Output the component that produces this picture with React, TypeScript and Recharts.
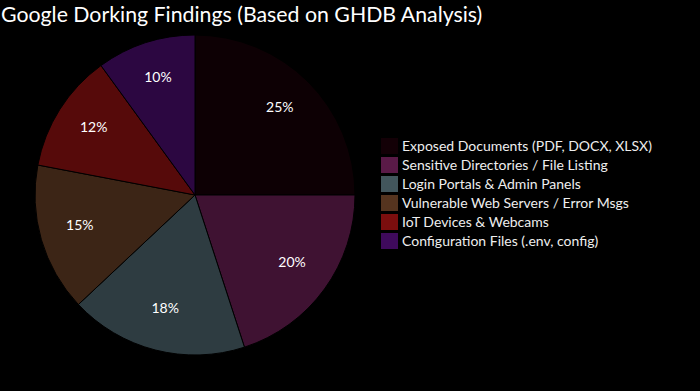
import React from 'react';
import { PieChart, Pie, Cell, Legend } from 'recharts';

const FONT = 'Lato, "DejaVu Sans", sans-serif';

const title = 'Google Dorking Findings (Based on GHDB Analysis)';
const categories = [
  'Exposed Documents (PDF, DOCX, XLSX)',
  'Sensitive Directories / File Listing',
  'Login Portals & Admin Panels',
  'Vulnerable Web Servers / Error Msgs',
  'IoT Devices & Webcams',
  'Configuration Files (.env, config)',
];
const values = [25, 20, 18, 15, 12, 10];
const colors = ['#130006', '#5a1a47', '#42565c', '#55341f', '#7b0e0e', '#3f0a5c'];

const data = categories.map((name, i) => ({ name, value: values[i] }));

const RAD = Math.PI / 180;

const renderLabel = (props: any) => {
  const { cx, cy, midAngle, outerRadius, value } = props;
  const r = outerRadius * 0.75;
  const x = cx + r * Math.cos(-midAngle * RAD);
  const y = cy + r * Math.sin(-midAngle * RAD) - 4;
  return (
    <text
      x={x}
      y={y}
      fill="#ffffff"
      textAnchor="middle"
      dominantBaseline="central"
      fontSize={14}
      fontFamily={FONT}
    >
      {`${value}%`}
    </text>
  );
};

const renderLegend = () => (
  <div style={{ display: 'flex', flexDirection: 'column', fontFamily: FONT, fontSize: 14, color: '#eeeeee' }}>
    {categories.map((c, i) => (
      <div key={c} style={{ display: 'flex', alignItems: 'center', height: 19, whiteSpace: 'nowrap' }}>
        <span style={{ display: 'inline-block', width: 17, height: 16, background: colors[i], marginRight: 4 }} />
        <span>{c}</span>
      </div>
    ))}
  </div>
);

export default function App() {
  return (
    <div style={{ position: 'fixed', left: 0, top: 0, width: 700, height: 391, background: '#000', overflow: 'hidden' }}>
      <div
        style={{
          position: 'absolute',
          left: 1,
          top: 0,
          fontFamily: FONT,
          fontSize: 21.3,
          lineHeight: '28px',
          color: '#ffffff',
          whiteSpace: 'nowrap',
        }}
      >
        {title}
      </div>
      <PieChart
        width={700}
        height={391}
        margin={{ top: 0, right: 0, bottom: 0, left: 0 }}
        style={{ position: 'absolute', left: 0, top: 0 }}
      >
        <Pie
          data={data}
          dataKey="value"
          nameKey="name"
          cx={195}
          cy={195}
          outerRadius={160}
          startAngle={90}
          endAngle={-270}
          stroke="#000"
          strokeWidth={1}
          label={renderLabel}
          labelLine={false}
          isAnimationActive={false}
        >
          {data.map((d, i) => (
            <Cell key={d.name} fill={colors[i]} fillOpacity={0.7} />
          ))}
        </Pie>
        <Legend
          content={renderLegend}
          wrapperStyle={{ position: 'absolute', left: 381, top: 136, width: 300, bottom: 'auto' }}
        />
      </PieChart>
    </div>
  );
}
